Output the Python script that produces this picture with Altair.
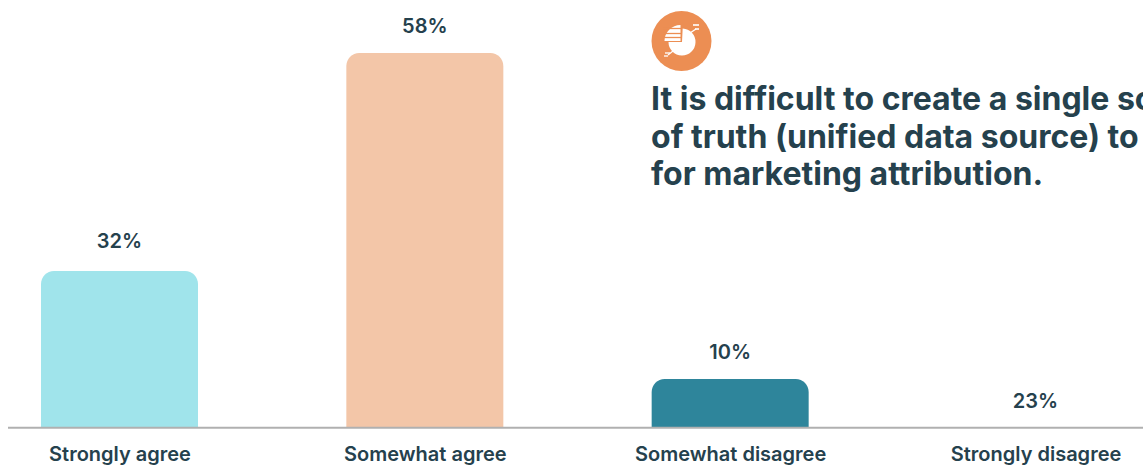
import math
import altair as alt
import pandas as pd

# Survey responses
categories = ["Strongly agree", "Somewhat agree", "Somewhat disagree", "Strongly disagree"]
percent_labels = [32, 58, 10, 23]
bar_values = [32, 58, 10, None]
bar_colors = ["#A0E4EB", "#F3C6A8", "#2E859B", "#FFFFFF"]
headline = [
    "It is difficult to create a single source",
    "of truth (unified data source) to use",
    "for marketing attribution.",
]

INK = "#25414D"
FONT = "Inter"

df = pd.DataFrame({
    "category": categories,
    "value": percent_labels,
    "label": [f"{v}%" for v in percent_labels],
    "bar": bar_values,
    "anchor": [v if v is not None else 0 for v in bar_values],
    "color": bar_colors,
})

x_scale = alt.Scale(type="point", domain=categories, range=[119.5, 1035.5], padding=0)
y_scale = alt.Scale(domain=[0, 32, 58], range=[428, 271, 53], nice=False, zero=False)

bars = alt.Chart(df[df["bar"].notna()]).mark_bar(
    size=157, cornerRadiusTopLeft=13, cornerRadiusTopRight=13
).encode(
    x=alt.X("category:N", scale=x_scale, title=None, axis=alt.Axis(
        domain=False, ticks=False, grid=False, labelAngle=0, labelPadding=16,
        labelLimit=400, labelFont=FONT, labelFontSize=20, labelFontWeight=600, labelColor=INK,
    )),
    y=alt.Y("bar:Q", scale=y_scale, axis=None, stack=None),
    color=alt.Color("color:N", scale=None),
)

baseline = alt.Chart(pd.DataFrame({"a": [0]})).mark_rule(color="#B0B0B0", strokeWidth=2).encode(
    x=alt.value(8), x2=alt.value(1143), y=alt.value(427.7)
)


def value_label_layer(rows, lift):
    return alt.Chart(rows).mark_text(
        font=FONT, fontSize=20, fontWeight=600, color=INK, baseline="middle", dy=-lift
    ).encode(
        x=alt.X("category:N", scale=x_scale, title=None),
        y=alt.Y("anchor:Q", scale=y_scale, axis=None),
        text="label:N",
    )


value_labels = [
    value_label_layer(df[df["value"] == 32], 29.5),
    value_label_layer(df[df["value"] != 32], 26),
]

headline_layers = [
    alt.Chart(pd.DataFrame({"t": [line]})).mark_text(
        font=FONT, fontSize=32, fontWeight=700, color=INK, align="left", baseline="alphabetic"
    ).encode(x=alt.value(651), y=alt.value(110 + i * 37.5), text="t:N")
    for i, line in enumerate(headline)
]


def icon_arc(start, end, radius, cx, cy, color):
    return alt.Chart(pd.DataFrame({"a": [0]})).mark_arc(
        theta=start, theta2=end, radius=radius, innerRadius=0, color=color
    ).encode(x=alt.value(cx), y=alt.value(cy))


def icon_line(x1, x2, y1, y2, color, width):
    return alt.Chart(pd.DataFrame({"a": [0]})).mark_rule(color=color, strokeWidth=width).encode(
        x=alt.value(x1), x2=alt.value(x2), y=alt.value(y1), y2=alt.value(y2)
    )


# Round pie-chart badge beside the headline
ORANGE = "#EC8E53"
icon = [
    icon_arc(0, 2 * math.pi, 30, 681.5, 41, ORANGE),
    icon_arc(0.05, 1.5 * math.pi, 13.5, 682, 42, "#FFFFFF"),
    icon_arc(1.5 * math.pi, 2 * math.pi, 16, 680.5, 41, "#FFFFFF"),
    icon_line(663, 681, 28.5, 28.5, ORANGE, 1.3),
    icon_line(663, 681, 33.5, 33.5, ORANGE, 1.3),
    icon_line(663, 681, 37.5, 37.5, ORANGE, 1.3),
    icon_line(690, 696, 33, 29, "#FFFFFF", 1.3),
    icon_line(693, 699, 25, 25, "#FFFFFF", 1.6),
    icon_line(695, 699, 29, 29, "#FFFFFF", 1.6),
    icon_line(673, 668, 51, 55, "#FFFFFF", 1.3),
    icon_line(665, 670, 53, 53, "#FFFFFF", 1.3),
    icon_line(664, 668, 56, 56, "#FFFFFF", 1.3),
]

chart = alt.layer(bars, baseline, *value_labels, *headline_layers, *icon).properties(
    width=1143,
    height=428,
    padding={"left": 0, "top": 0, "right": 0, "bottom": 37},
    autosize=alt.AutoSizeParams(type="none"),
    background="#FFFFFF",
).configure_view(stroke=None)

chart.save("out.html", embed_options={"renderer": "svg", "actions": False})
